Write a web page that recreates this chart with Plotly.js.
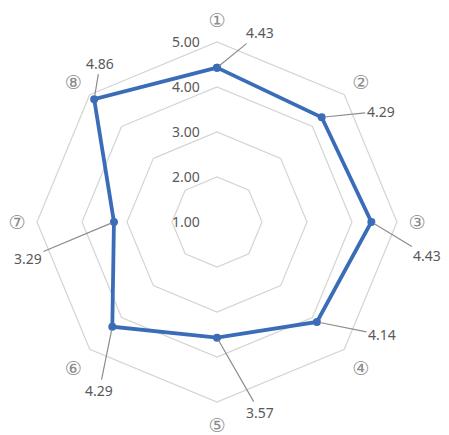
<!DOCTYPE html>
<html>
<head>
<meta charset="utf-8">
<script src="https://cdn.plot.ly/plotly-3.0.1.min.js"></script>
<style>html,body{margin:0;padding:0;background:#fff;}#chart{width:449px;height:435px;}</style>
</head>
<body>
<div id="chart"></div>
<script>
// ---- data ----
const categories = ['①','②','③','④','⑤','⑥','⑦','⑧'];
const values = [4.43, 4.29, 4.43, 4.14, 3.57, 4.29, 3.29, 4.86];
const radialTicks = [1, 2, 3, 4, 5];

// ---- label offsets (pixels, style only) ----
const labelDx = [43, 59, 56, 65, 43, -13, -86, 6];
const labelDy = [-35, -6, 34, 13, 75, 64, 36, -36];

const W = 449, H = 435;
const domX = [37 / W, 397 / W];
const domY = [1 - 402 / H, 1 - 42 / H];
const rMin = 1, rMax = 5;

const textColor = '#595959';
const gridColor = '#d4d4d4';
const lineColor = '#3b6cb8';
const pad = '\u00a0\u00a0\u00a0\u00a0';

function toPaper(v, i) {
  const cx = (domX[0] + domX[1]) / 2, cy = (domY[0] + domY[1]) / 2;
  const rx = (domX[1] - domX[0]) / 2, ry = (domY[1] - domY[0]) / 2;
  const f = (v - rMin) / (rMax - rMin);
  const phi = (90 - i * 360 / categories.length) * Math.PI / 180;
  return { x: cx + f * rx * Math.cos(phi), y: cy + f * ry * Math.sin(phi) };
}

const annotations = values.map((v, i) => {
  const p = toPaper(v, i);
  return {
    xref: 'paper', yref: 'paper', x: p.x, y: p.y,
    text: v.toFixed(2), showarrow: true, arrowhead: 0, arrowwidth: 1.2,
    arrowcolor: '#8c8c8c', ax: labelDx[i], ay: labelDy[i], standoff: 3,
    font: { family: 'Noto Sans, Open Sans, sans-serif', size: 14, color: textColor }
  };
});

const trace = {
  type: 'scatterpolar',
  r: values.concat([values[0]]),
  theta: categories.concat([categories[0]]),
  mode: 'lines+markers',
  line: { color: lineColor, width: 3.8 },
  marker: { color: lineColor, size: 8 },
  hoverinfo: 'skip',
  showlegend: false
};

const layout = {
  width: W, height: H,
  margin: { l: 0, r: 0, t: 0, b: 0 },
  paper_bgcolor: '#ffffff',
  showlegend: false,
  polar: {
    domain: { x: domX, y: domY },
    bgcolor: '#ffffff',
    gridshape: 'linear',
    radialaxis: {
      range: [rMin, rMax],
      tickvals: radialTicks,
      ticktext: radialTicks.map(t => t.toFixed(2) + pad),
      angle: 90,
      tickangle: 90,
      side: 'counterclockwise',
      showline: false,
      ticks: '',
      gridcolor: gridColor,
      gridwidth: 1.2,
      tickfont: { family: 'Noto Sans, Open Sans, sans-serif', size: 14, color: textColor }
    },
    angularaxis: {
      rotation: 90,
      direction: 'clockwise',
      showgrid: false,
      showline: true,
      linecolor: gridColor,
      linewidth: 1.2,
      ticks: 'outside',
      ticklen: 7,
      tickcolor: 'rgba(0,0,0,0)',
      tickfont: { family: 'DejaVu Sans, Noto Sans CJK JP, sans-serif', size: 19, color: '#8c8c8c' }
    }
  },
  annotations: annotations
};

Plotly.newPlot('chart', [trace], layout, { staticPlot: true, displayModeBar: false });
</script>
</body>
</html>
